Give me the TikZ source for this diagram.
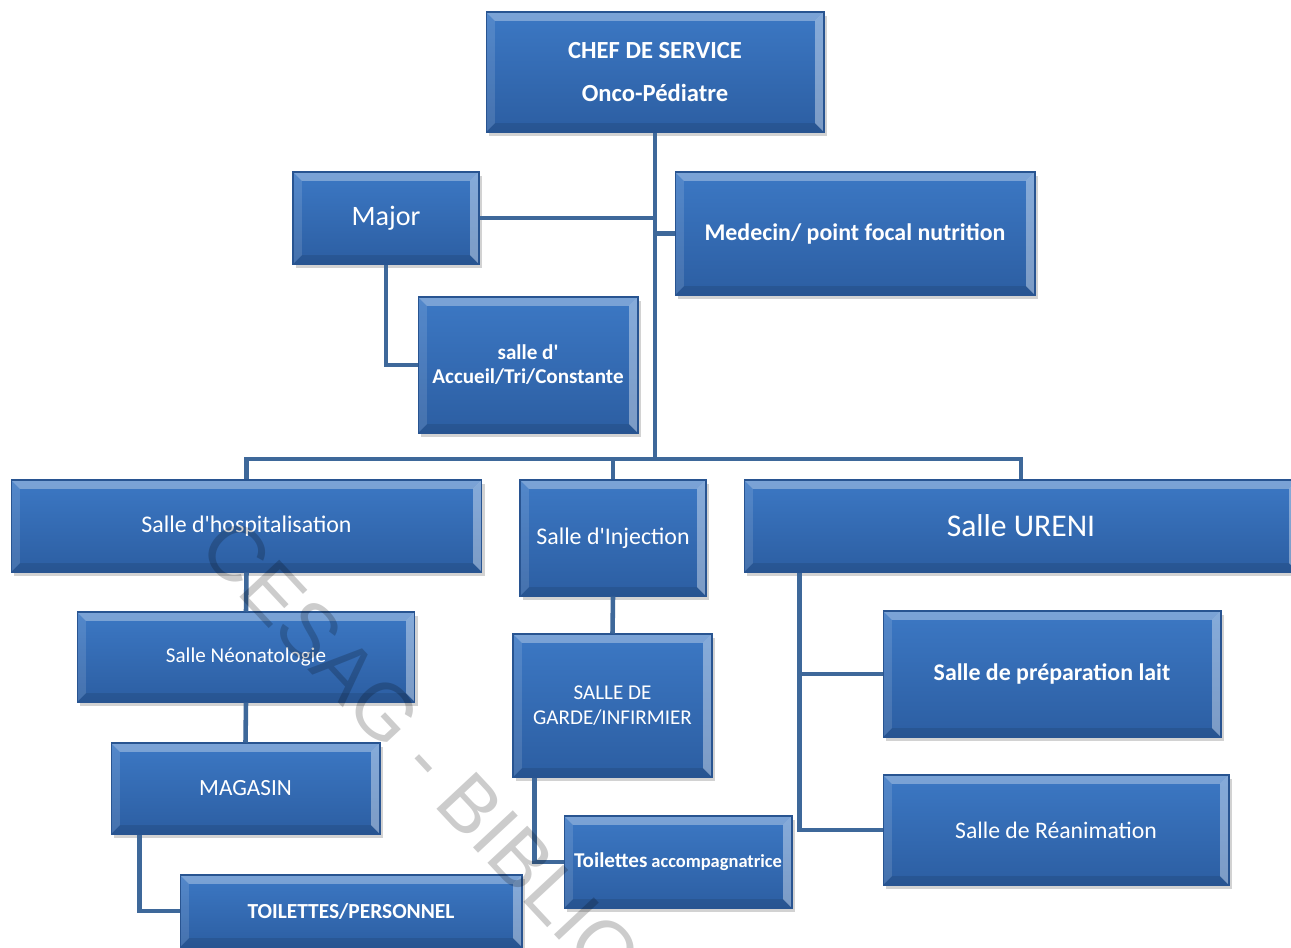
\documentclass[tikz,border=0pt]{standalone}
\usepackage{fontspec}
\setmainfont{Carlito}[Ligatures=TeXOff]
\newfontfamily\wmfont{Liberation Sans}
\usetikzlibrary{shadows}

\definecolor{boxtop}{RGB}{60,120,196}
\definecolor{boxbot}{RGB}{44,94,162}
\definecolor{boxedge}{RGB}{40,84,145}
\definecolor{conn}{RGB}{62,104,154}

\tikzstyle{bevel}=[path picture={
   \fill[white,opacity=0.32] (path picture bounding box.north west) -- (path picture bounding box.north east)
-- ([shift={(-5pt,-5pt)}]path picture bounding box.north east) -- ([shift={(5pt,-5pt)}]path picture bounding box.north west) -- cycle;
   \fill[white,opacity=0.38] (path picture bounding box.north east) -- (path picture bounding box.south east)
-- ([shift={(-5pt,5pt)}]path picture bounding box.south east) -- ([shift={(-5pt,-5pt)}]path picture bounding box.north east) -- cycle;
   \fill[black,opacity=0.10] (path picture bounding box.south east) -- (path picture bounding box.south west)
-- ([shift={(5pt,5pt)}]path picture bounding box.south west) -- ([shift={(-5pt,5pt)}]path picture bounding box.south east) -- cycle;
   \fill[white,opacity=0.12] (path picture bounding box.south west) -- (path picture bounding box.north west)
-- ([shift={(5pt,-5pt)}]path picture bounding box.north west) -- ([shift={(5pt,5pt)}]path picture bounding box.south west) -- cycle;
}]
\tikzstyle{box}=[draw=boxedge,line width=0.6pt,top color=boxtop,bottom color=boxbot,bevel,
   text=white,align=center,inner sep=0pt,
   drop shadow={shadow xshift=1.5pt,shadow yshift=-2pt,opacity=0.35}]
\tikzstyle{conn}=[draw=conn,line width=2.6pt]
\tikzstyle{wmark}=[text=black,text opacity=0.2,inner sep=0pt,font=\wmfont\fontsize{45}{50}\selectfont]

\begin{document}
\begin{tikzpicture}[x=0.02cm,y=-0.02cm]

   \clip (0,0) rectangle (1291,947);
   \fill[white] (0,0) rectangle (1291,947);

   % top of the chart
   \node[box,minimum width=6.76cm,minimum height=2.40cm,font=\bfseries\fontsize{14}{17}\selectfont] (chef) at (655,72)
      {CHEF DE SERVICE\\[7pt]Onco-Pédiatre};
   \node[box,minimum width=3.72cm,minimum height=1.84cm,font=\fontsize{16}{19}\selectfont] (major) at (386,218) {Major};
   \node[box,minimum width=7.20cm,minimum height=2.46cm,font=\bfseries\fontsize{13.6}{16}\selectfont] (medecin) at (855,233.5)
      {Medecin/ point focal nutrition};
   \node[box,minimum width=4.40cm,minimum height=2.72cm,font=\bfseries\fontsize{12}{13.6}\selectfont] (accueil) at (528,365)
      {salle d'\\Accueil/Tri/Constante};

   % the three wards
   \node[box,minimum width=9.42cm,minimum height=1.84cm,font=\fontsize{13.6}{16}\selectfont] (hosp) at (246.5,526)
      {Salle d'hospitalisation};
   \node[box,minimum width=3.72cm,minimum height=2.32cm,font=\fontsize{13.6}{16}\selectfont] (inject) at (613,538)
      {Salle d'Injection};
   \node[box,minimum width=11.08cm,minimum height=1.84cm,font=\fontsize{18}{21}\selectfont] (ureni) at (1021,526)
      {Salle URENI};

   % below hospitalisation
   \node[box,minimum width=6.76cm,minimum height=1.80cm,font=\fontsize{12}{14}\selectfont] (neo) at (246,657)
      {Salle Néonatologie};
   \node[box,minimum width=5.38cm,minimum height=1.82cm,font=\fontsize{13.2}{15}\selectfont] (magasin) at (245.5,788.5)
      {MAGASIN};
   \node[box,minimum width=6.84cm,minimum height=1.44cm,font=\bfseries\fontsize{12.2}{14}\selectfont] (toilpers) at (351,911)
      {TOILETTES/PERSONNEL};

   % below injection
   \node[box,minimum width=3.98cm,minimum height=2.86cm,font=\fontsize{12}{14.2}\selectfont] (garde) at (612.5,705.5)
      {SALLE DE\\GARDE/INFIRMIER};
   \node[box,minimum width=4.56cm,minimum height=1.84cm,font=\bfseries] (toilacc) at (678,862)
      {{\fontsize{12}{14}\selectfont Toilettes} {\fontsize{10.5}{14}\selectfont accompagnatrice}};

   % below URENI
   \node[box,minimum width=6.76cm,minimum height=2.52cm,font=\bfseries\fontsize{13.6}{16}\selectfont] (prep) at (1052,674)
      {Salle de préparation lait};
   \node[box,minimum width=6.92cm,minimum height=2.20cm,font=\fontsize{13.5}{16}\selectfont] (reanim) at (1056,830)
      {Salle de Réanimation};

   % connectors
   \coordinate (bus) at (655,459);
   \draw[conn] (chef.south) -- (bus);
   \draw[conn] (major.east) -- (major.east -| bus);
   \draw[conn] (medecin.west) -- (medecin.west -| bus);
   \draw[conn] (major.south) |- (accueil.west);
   \draw[conn] (hosp.north) |- (bus) -| (ureni.north);
   \draw[conn] (inject.north) -- (inject.north |- bus);
   \draw[conn] (hosp.south) -- (neo.north);
   \draw[conn] (neo.south) -- (magasin.north);
   \draw[conn] (magasin.south west) ++(29,0) |- (toilpers.west);
   \draw[conn] (inject.south) -- (garde.north);
   \draw[conn] (garde.south west) ++(22,0) |- (toilacc.west);
   \draw[conn] (ureni.south west) ++(56,0) |- (prep.west);
   \draw[conn] (ureni.south west) ++(56,0) |- (reanim.west);

   \node[wmark,rotate=-47,anchor=base west] (wm) at (196,550) {CESAG - BIBLIOTHEQUE};

\end{tikzpicture}
\end{document}
